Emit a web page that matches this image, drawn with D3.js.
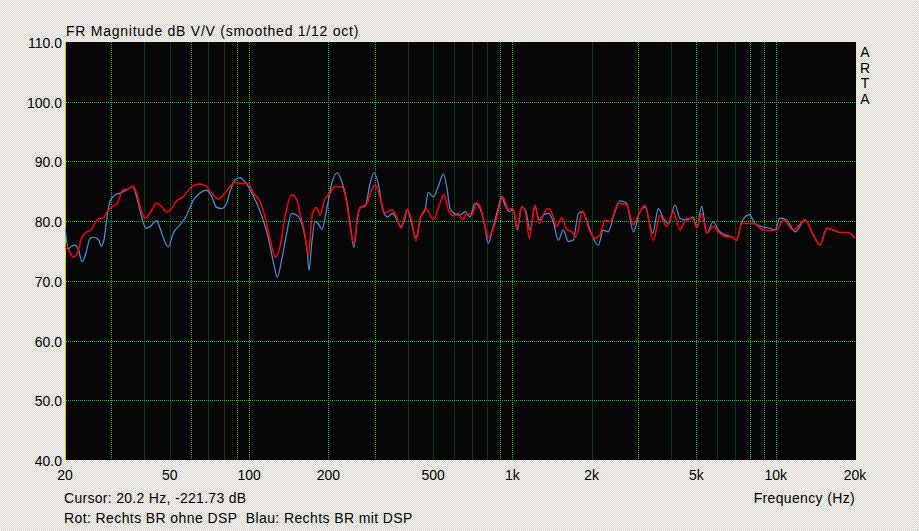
<!DOCTYPE html>
<html>
<head>
<meta charset="utf-8">
<script src="https://cdn.jsdelivr.net/npm/d3@7"></script>
<style>
  body { margin: 0; overflow: hidden; }
  svg { display: block; font-family: "Liberation Sans", Arial, sans-serif; }
</style>
</head>
<body>
<svg id="chart"></svg>
<script>
// Values
const yTicks = [110, 100, 90, 80, 70, 60, 50, 40];
const xTickValues = [20, 50, 100, 200, 500, 1000, 2000, 5000, 10000, 20000];
const xTickLabels = ["20", "50", "100", "200", "500", "1k", "2k", "5k", "10k", "20k"];
const gridFreqs = [30, 40, 50, 60, 70, 80, 90, 100, 200, 300, 400, 500, 600, 700, 800, 900,
  1000, 2000, 3000, 4000, 5000, 6000, 7000, 8000, 9000, 10000];
const brightGrid = [30, 60, 90, 100, 200, 300, 900, 1000, 3000, 5000, 8000, 9000, 10000];

// Blau: Rechts BR mit DSP
const blueFreq = [20.0, 20.6, 21.2, 21.8, 22.5, 23.2, 24.0, 24.9, 25.8, 26.9,
  27.4, 28.1, 28.8, 29.6, 31.0, 32.4, 34.3, 36.1, 37.4, 39.1,
  40.6, 42.1, 44.6, 45.9, 48.4, 49.3, 51.6, 54.7, 58.0, 61.4,
  65.1, 69.0, 72.1, 75.3, 78.7, 82.2, 84.6, 88.4, 92.4, 96.5,
  101, 107, 112, 118, 124, 128, 133, 139, 145, 152,
  161, 166, 169, 173, 178, 183, 189, 197, 206, 216,
  225, 235, 242, 250, 258, 264, 276, 288, 298, 310,
  322, 335, 351, 365, 377, 388, 399, 411, 430, 449,
  466, 479, 501, 523, 547, 563, 580, 600, 633, 661,
  690, 721, 753, 780, 810, 842, 876, 911, 937, 973,
  1008, 1044, 1085, 1126, 1166, 1219, 1265, 1310, 1369, 1430,
  1494, 1561, 1631, 1703, 1780, 1849, 1915, 2001, 2119, 2214,
  2313, 2417, 2563, 2717, 2879, 3034, 3188, 3411, 3582, 3742,
  3909, 4145, 4331, 4592, 4865, 5012, 5236, 5470, 5794, 6053,
  6418, 6805, 7110, 7428, 7937, 8344, 8847, 9511, 9936, 10380,
  11010, 11840, 12920, 13890, 14730, 15620, 16550, 17550, 18860, 20000];
const blueDb = [79.0, 75.4, 75.8, 76.0, 75.2, 73.2, 74.6, 77.1, 77.3, 76.8,
  75.8, 76.8, 80.2, 83.3, 84.4, 84.7, 85.2, 85.8, 84.1, 80.7,
  78.8, 79.1, 80.1, 78.8, 76.1, 75.7, 78.0, 79.4, 81.0, 83.5,
  84.7, 85.2, 84.1, 82.3, 82.1, 83.0, 84.9, 86.9, 87.3, 86.6,
  85.2, 83.0, 80.7, 77.4, 72.9, 70.6, 73.5, 78.0, 81.3, 81.0,
  78.5, 75.2, 71.8, 76.3, 79.9, 79.6, 78.6, 81.9, 86.3, 88.1,
  86.6, 83.5, 79.6, 75.6, 80.5, 82.3, 82.5, 86.3, 88.1, 86.1,
  81.9, 80.7, 81.3, 80.2, 79.1, 79.9, 82.0, 80.2, 77.3, 80.7,
  81.9, 84.8, 84.1, 85.8, 87.9, 85.8, 82.1, 81.3, 81.0, 81.6,
  80.7, 83.0, 82.1, 79.9, 76.3, 78.8, 81.6, 84.1, 82.7, 81.6,
  82.0, 78.5, 82.4, 81.6, 78.5, 82.4, 80.2, 81.0, 81.3, 79.9,
  76.8, 78.5, 76.6, 76.8, 81.3, 81.6, 80.2, 77.7, 76.0, 78.5,
  78.2, 80.7, 83.4, 83.0, 78.2, 81.3, 82.4, 78.0, 82.1, 80.5,
  79.6, 82.7, 80.5, 80.2, 80.7, 78.8, 82.5, 78.0, 79.9, 78.5,
  77.7, 77.4, 76.8, 79.9, 81.1, 79.6, 79.1, 78.8, 78.5, 80.5,
  80.2, 78.2, 80.2, 77.7, 76.0, 78.8, 78.5, 78.1, 78.1, 77.1];

// Rot: Rechts BR ohne DSP
const redFreq = [20.0, 20.6, 21.5, 22.3, 23.1, 24.0, 25.0, 25.8, 26.8, 28.0,
  29.0, 30.1, 31.6, 33.1, 34.8, 36.3, 37.6, 38.9, 40.3, 42.1,
  44.6, 46.6, 48.7, 50.8, 53.1, 56.3, 59.7, 65.1, 69.0, 73.1,
  76.4, 81.0, 84.6, 88.4, 93.8, 99.3, 104, 110, 115, 120,
  126, 131, 137, 145, 152, 156, 162, 168, 174, 180,
  186, 194, 203, 212, 225, 235, 242, 250, 258, 265,
  280, 292, 301, 314, 328, 348, 364, 377, 399, 415,
  430, 449, 470, 501, 531, 550, 571, 597, 623, 648,
  671, 701, 732, 760, 787, 810, 842, 872, 919, 965,
  1008, 1039, 1085, 1126, 1159, 1219, 1265, 1330, 1381, 1430,
  1473, 1539, 1608, 1680, 1744, 1849, 1959, 2059, 2151, 2247,
  2348, 2525, 2717, 2879, 3007, 3188, 3429, 3635, 3855, 4084,
  4331, 4592, 4865, 5012, 5236, 5470, 5794, 6053, 6515, 6805,
  7110, 7428, 7870, 8222, 8972, 9511, 10090, 10690, 11660, 12920,
  13700, 14730, 15620, 16550, 17550, 18860, 20000];
const redDb = [75.6, 75.2, 74.0, 74.6, 77.1, 78.1, 78.4, 79.4, 80.4, 80.6,
  81.6, 82.4, 83.0, 85.2, 85.4, 85.9, 84.4, 81.9, 80.5, 81.4,
  83.0, 82.4, 81.5, 82.1, 83.4, 84.1, 85.5, 86.2, 85.8, 84.4,
  83.7, 84.7, 85.8, 86.5, 86.3, 86.3, 84.7, 83.3, 80.7, 77.1,
  74.0, 75.7, 80.7, 84.4, 83.5, 81.3, 78.5, 74.3, 81.3, 82.3,
  81.0, 83.7, 84.7, 85.8, 85.7, 83.0, 79.1, 76.3, 80.7, 82.3,
  82.9, 85.3, 86.1, 84.1, 81.4, 81.9, 80.7, 78.8, 82.0, 79.9,
  76.7, 80.7, 82.0, 80.3, 83.0, 84.5, 81.9, 80.9, 81.3, 80.2,
  81.3, 81.0, 83.1, 82.1, 79.1, 77.3, 78.5, 80.5, 84.1, 82.0,
  82.1, 78.8, 82.4, 81.0, 77.1, 82.7, 79.6, 81.6, 82.1, 80.7,
  79.1, 80.6, 78.6, 78.2, 77.4, 81.7, 78.5, 77.1, 77.7, 80.2,
  79.9, 83.0, 82.7, 79.4, 81.0, 82.7, 76.8, 81.0, 79.1, 81.6,
  78.5, 80.5, 80.3, 78.8, 81.3, 78.0, 79.1, 78.2, 77.4, 77.4,
  76.8, 79.6, 79.6, 79.6, 78.5, 78.4, 78.5, 80.2, 78.5, 80.2,
  78.2, 76.0, 78.8, 78.5, 78.1, 78.1, 77.1];

const W = 919, H = 531;
const plot = { left: 65, right: 856, top: 42, bottom: 460 };
const GREEN = "#00c828";

const svg = d3.select("#chart").attr("width", W).attr("height", H);
const defs = svg.append("defs");

// dithered window background
const pat = defs.append("pattern")
  .attr("id", "dither")
  .attr("width", 2).attr("height", 2)
  .attr("patternUnits", "userSpaceOnUse");
pat.append("rect").attr("width", 2).attr("height", 2).attr("fill", "#ffffff");
pat.append("rect").attr("x", 1).attr("width", 1).attr("height", 1).attr("fill", "#d4d0c8");
pat.append("rect").attr("y", 1).attr("width", 1).attr("height", 1).attr("fill", "#d4d0c8");

// one-pixel dot patterns for the dotted grid lines
const dotsV = defs.append("pattern").attr("id", "dotsV")
  .attr("width", 1).attr("height", 2).attr("patternUnits", "userSpaceOnUse");
dotsV.append("rect").attr("width", 1).attr("height", 1).attr("fill", GREEN);
const dotsH = defs.append("pattern").attr("id", "dotsH")
  .attr("width", 2).attr("height", 1).attr("patternUnits", "userSpaceOnUse");
dotsH.append("rect").attr("width", 1).attr("height", 1).attr("fill", GREEN);

defs.append("clipPath").attr("id", "plot-clip")
  .append("rect")
  .attr("x", plot.left).attr("y", plot.top)
  .attr("width", plot.right - plot.left).attr("height", plot.bottom - plot.top);

svg.append("rect").attr("width", W).attr("height", H).attr("fill", "url(#dither)");

const x = d3.scaleLog().domain([20, 20000]).range([plot.left, plot.right - 1]);
const y = d3.scaleLinear().domain([40, 110]).range([plot.bottom, plot.top]);

svg.append("rect")
  .attr("x", plot.left).attr("y", plot.top)
  .attr("width", plot.right - plot.left).attr("height", plot.bottom - plot.top)
  .attr("fill", "#060606");

const grid = svg.append("g").attr("shape-rendering", "crispEdges");

// vertical grid: dim solid lines and bright dotted ones
grid.selectAll("rect.v")
  .data(gridFreqs)
  .join("rect")
  .attr("class", "v")
  .attr("x", d => Math.round(x(d)))
  .attr("y", plot.top)
  .attr("width", 1)
  .attr("height", plot.bottom - plot.top)
  .attr("fill", d => brightGrid.includes(d) ? "url(#dotsV)" : "#0a3810");

// horizontal grid
grid.selectAll("rect.h")
  .data(yTicks.filter(d => d > 40 && d < 110))
  .join("rect")
  .attr("class", "h")
  .attr("x", plot.left)
  .attr("y", d => Math.round(y(d)))
  .attr("width", plot.right - plot.left)
  .attr("height", 1)
  .attr("fill", "url(#dotsH)");

// yellow cursor line at the left edge
grid.append("rect")
  .attr("x", plot.left).attr("y", plot.top)
  .attr("width", 1).attr("height", plot.bottom - plot.top)
  .attr("fill", "#d8c800");

// curves
const line = d3.line()
  .x(d => x(d[0]))
  .y(d => y(d[1]))
  .curve(d3.curveMonotoneX);

const curves = svg.append("g").attr("clip-path", "url(#plot-clip)");
curves.append("path")
  .datum(d3.zip(blueFreq, blueDb))
  .attr("d", line)
  .attr("fill", "none")
  .attr("stroke", "#5391dc")
  .attr("stroke-width", 1.2);
curves.append("path")
  .datum(d3.zip(redFreq, redDb))
  .attr("d", line)
  .attr("fill", "none")
  .attr("stroke", "#ff0000")
  .attr("stroke-width", 1.5);

// labels
const txt = svg.append("g").attr("font-size", 14).attr("fill", "#000");

txt.selectAll("text.yt")
  .data(yTicks)
  .join("text")
  .attr("class", "yt")
  .attr("x", 62)
  .attr("y", d => y(d) + 6)
  .attr("text-anchor", "end")
  .text(d => d3.format(".1f")(d));

txt.selectAll("text.xt")
  .data(xTickValues)
  .join("text")
  .attr("class", "xt")
  .attr("x", d => x(d))
  .attr("y", 480)
  .attr("text-anchor", "middle")
  .text((d, i) => xTickLabels[i]);

txt.append("text").attr("x", 66).attr("y", 36)
  .attr("letter-spacing", 0.75)
  .text("FR Magnitude dB V/V (smoothed 1/12 oct)");

txt.append("text").attr("x", 64).attr("y", 503)
  .attr("letter-spacing", 0.3)
  .text("Cursor: 20.2 Hz, -221.73 dB");

txt.append("text").attr("x", 64).attr("y", 523)
  .attr("letter-spacing", 0.4)
  .attr("xml:space", "preserve")
  .text("Rot: Rechts BR ohne DSP  Blau: Rechts BR mit DSP");

txt.append("text").attr("x", 855).attr("y", 503)
  .attr("text-anchor", "end")
  .attr("letter-spacing", 0.35)
  .text("Frequency (Hz)");

txt.selectAll("text.arta")
  .data(["A", "R", "T", "A"])
  .join("text")
  .attr("class", "arta")
  .attr("x", 865)
  .attr("y", (d, i) => 57 + i * 15.5)
  .attr("text-anchor", "middle")
  .text(d => d);
</script>
</body>
</html>
